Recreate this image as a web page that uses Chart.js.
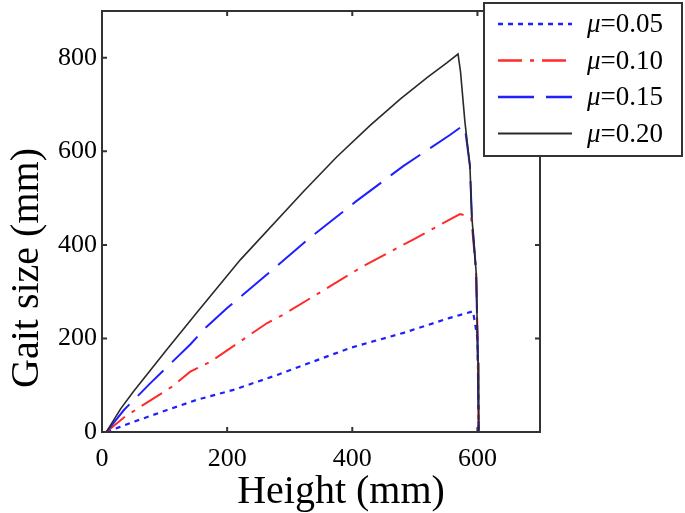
<!DOCTYPE html>
<html>
<head>
<meta charset="utf-8">
<script src="https://cdn.jsdelivr.net/npm/chart.js@4"></script>
<style>
  html, body { margin: 0; padding: 0; background: #fff; }
  #wrap { width: 685px; height: 513px; }
</style>
</head>
<body>
<div id="wrap"><canvas id="gaitChart" width="685" height="513"></canvas></div>
<script>
// values (height in mm, gait size in mm)
const xTicks = [0, 200, 400, 600];
const yTicks = [0, 200, 400, 600, 800];

const h005 = [7, 29, 51, 104, 152, 210, 280, 397, 482, 556, 593, 600, 601, 602];
const g005 = [0, 11, 22, 47, 69, 90, 122, 180, 212, 244, 258, 200, 130, 0];

const h010 = [7, 35, 66, 112, 141, 173, 264, 290, 338, 418, 498, 572, 590, 598, 601, 602];
const g010 = [0, 31, 58, 97, 129, 150, 233, 251, 290, 355, 412, 466, 459, 341, 148, 0];

const h015 = [7, 35, 77, 141, 165, 200, 264, 333, 407, 482, 556, 577, 581, 588, 591, 598, 600, 602];
const g015 = [0, 47, 104, 187, 222, 265, 337, 416, 494, 569, 635, 655, 640, 569, 462, 341, 204, 0];

const h020 = [7, 30, 50, 104, 152, 221, 322, 375, 429, 477, 520, 551, 569, 573, 580, 588, 591, 598, 600, 601, 602];
const g020 = [0, 50, 86, 177, 256, 368, 514, 588, 656, 712, 758, 789, 808, 770, 663, 569, 462, 341, 204, 148, 0];

const labels = ['\u03bc=0.05', '\u03bc=0.10', '\u03bc=0.15', '\u03bc=0.20'];
const xTitle = 'Height (mm)';
const yTitle = 'Gait size (mm)';

const serif = '"Liberation Serif", "Times New Roman", serif';

function pts(xs, ys) {
  return xs.map((x, i) => ({ x: x, y: ys[i] }));
}

// box around the plot with inward ticks (like matlab)
const framePlugin = {
  id: 'frame',
  afterDatasetsDraw(chart) {
    const { ctx, chartArea: a, scales } = chart;
    ctx.save();
    ctx.strokeStyle = '#333';
    ctx.lineWidth = 2;
    ctx.strokeRect(a.left, a.top, a.right - a.left, a.bottom - a.top);
    ctx.beginPath();
    xTicks.forEach(v => {
      const px = scales.x.getPixelForValue(v);
      ctx.moveTo(px, a.bottom); ctx.lineTo(px, a.bottom - 5);
      ctx.moveTo(px, a.top); ctx.lineTo(px, a.top + 5);
    });
    yTicks.forEach(v => {
      const py = scales.y.getPixelForValue(v);
      ctx.moveTo(a.left, py); ctx.lineTo(a.left + 5, py);
      ctx.moveTo(a.right, py); ctx.lineTo(a.right - 5, py);
    });
    ctx.stroke();

    // axis titles, a bit off-centre as in the original figure
    ctx.fillStyle = '#000';
    ctx.font = '40px ' + serif;
    ctx.textAlign = 'center';
    ctx.textBaseline = 'alphabetic';
    ctx.fillText(xTitle, 341, 503);
    ctx.translate(38, 268);
    ctx.rotate(-Math.PI / 2);
    ctx.fillText(yTitle, 0, 0);
    ctx.restore();
  },
  afterDraw(chart) {
    // legend box sits over the top right corner
    const ctx = chart.ctx;
    const bx = 484, by = 3, bw = 198, bh = 153;
    ctx.save();
    ctx.fillStyle = '#fff';
    ctx.fillRect(bx, by, bw, bh);
    ctx.strokeStyle = '#333';
    ctx.lineWidth = 2;
    ctx.strokeRect(bx, by, bw, bh);
    chart.data.datasets.forEach((ds, i) => {
      const y = 24 + i * 36.5;
      ctx.beginPath();
      ctx.strokeStyle = ds.borderColor;
      ctx.lineWidth = ds.borderWidth + 0.5;
      ctx.setLineDash(ds.borderDash || []);
      ctx.moveTo(498, y);
      ctx.lineTo(572, y);
      ctx.stroke();
      ctx.setLineDash([]);
      ctx.fillStyle = '#000';
      ctx.textBaseline = 'middle';
      ctx.font = 'italic 27px ' + serif;
      const mu = ds.label.charAt(0);
      ctx.fillText(mu, 587, y + 1);
      const w = ctx.measureText(mu).width;
      ctx.font = '27px ' + serif;
      ctx.fillText(ds.label.slice(1), 587 + w, y + 1);
    });
    ctx.restore();
  }
};

function noPad(s) {
  s.paddingTop = 0;
  s.paddingBottom = 0;
  s.paddingLeft = 0;
  s.paddingRight = 0;
}

new Chart(document.getElementById('gaitChart'), {
  type: 'line',
  data: {
    datasets: [
      { label: labels[0], data: pts(h005, g005), borderColor: '#1f1fff', borderWidth: 2.2, borderDash: [5, 5], order: 4 },
      { label: labels[1], data: pts(h010, g010), borderColor: '#ff2a2a', borderWidth: 2, borderDash: [24, 8, 4, 8], order: 3 },
      { label: labels[2], data: pts(h015, g015), borderColor: '#1f1fff', borderWidth: 2, borderDash: [36, 12], order: 2 },
      { label: labels[3], data: pts(h020, g020), borderColor: '#2a2a2a', borderWidth: 1.6, borderDash: [], order: 1 }
    ]
  },
  options: {
    responsive: false,
    animation: false,
    devicePixelRatio: 1,
    elements: { point: { radius: 0 }, line: { tension: 0, fill: false } },
    layout: { padding: { left: 0, top: 11, right: 145, bottom: 0 } },
    plugins: { legend: { display: false }, tooltip: { enabled: false } },
    scales: {
      x: {
        type: 'linear',
        min: 0,
        max: 700,
        afterBuildTicks: s => { s.ticks = xTicks.map(v => ({ value: v })); },
        afterFit: s => { s.height = 81; noPad(s); },
        grid: { display: false, drawTicks: false },
        border: { display: false },
        ticks: { font: { family: serif, size: 26 }, color: '#000', padding: 12, maxRotation: 0 },
        title: { display: false }
      },
      y: {
        type: 'linear',
        min: 0,
        max: 900,
        afterBuildTicks: s => { s.ticks = yTicks.map(v => ({ value: v })); },
        afterFit: s => { s.width = 102; noPad(s); },
        grid: { display: false, drawTicks: false },
        border: { display: false },
        ticks: { font: { family: serif, size: 26 }, color: '#000', padding: 5 },
        title: { display: false }
      }
    }
  },
  plugins: [framePlugin]
});
</script>
</body>
</html>
